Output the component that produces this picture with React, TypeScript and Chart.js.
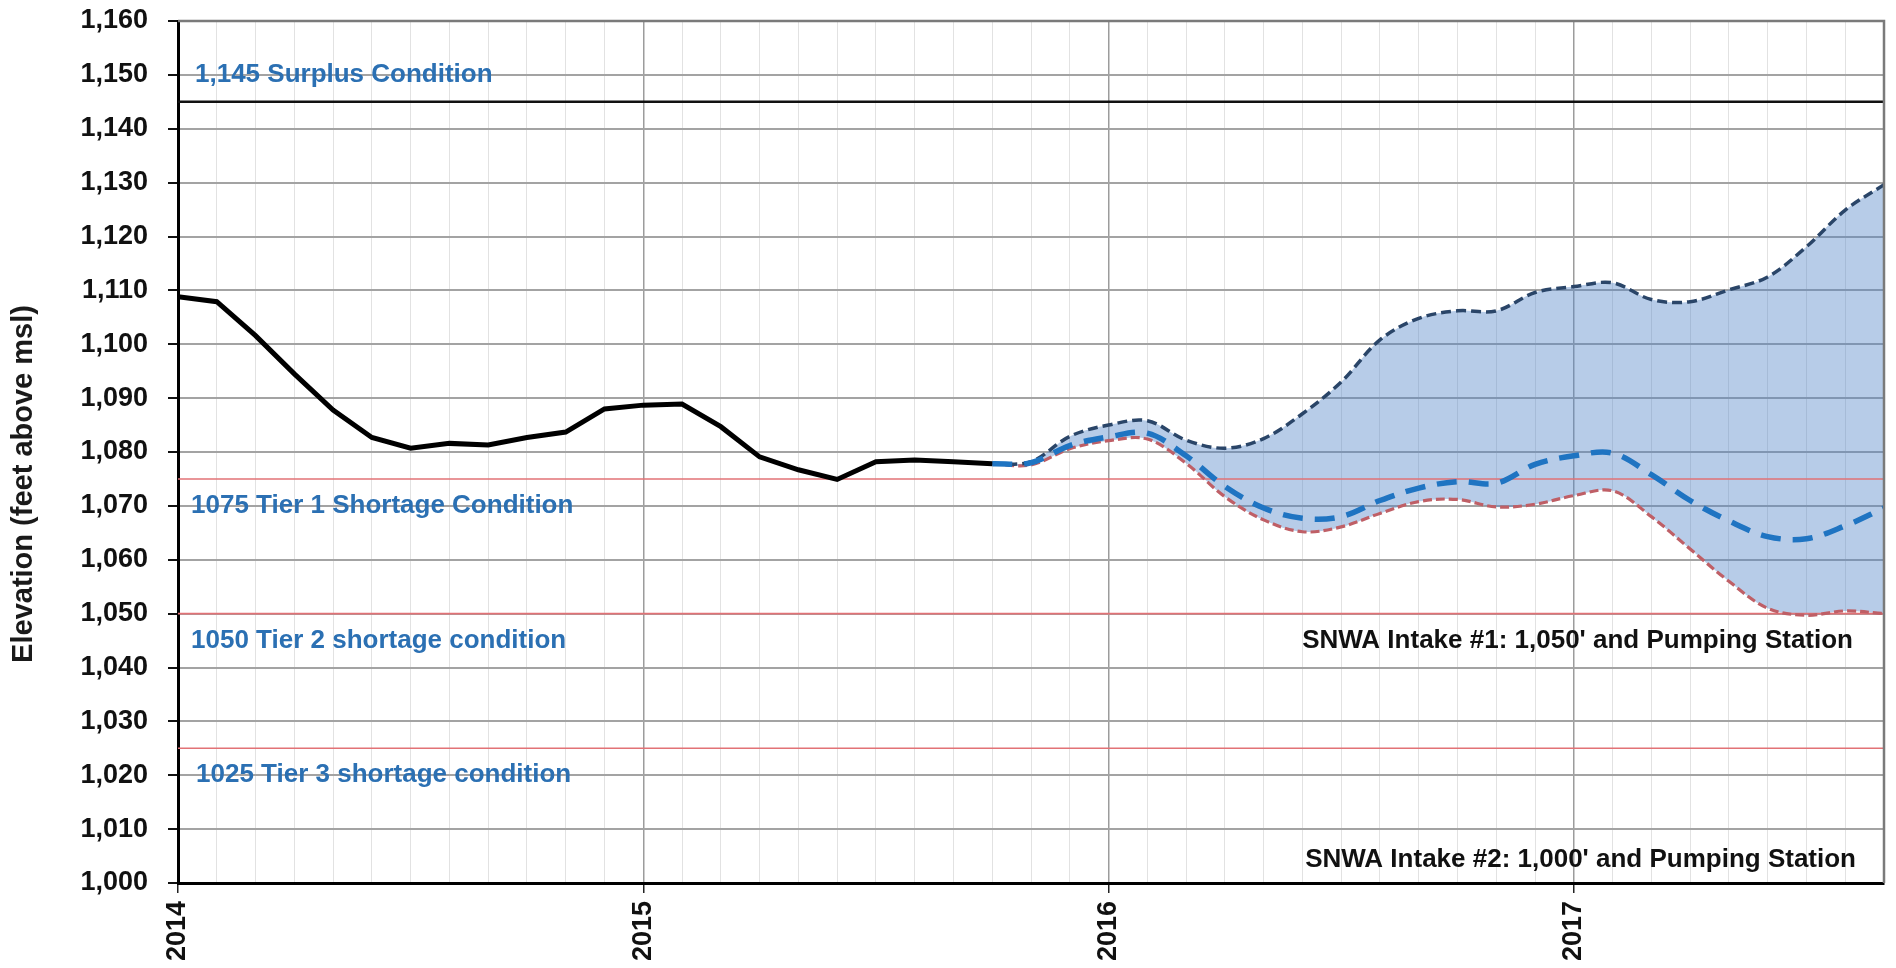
import React, { useEffect, useRef } from 'react';
import { Chart, registerables } from 'chart.js';

Chart.register(...registerables);

// ---------- data ----------
const yearTicks = ['2014', '2015', '2016', '2017'];
const monthCount = 44; // Jan 2014 .. Sep 2017 (month index 0..44)

// Historical end-of-month elevation, Jan 2014 (index 0) .. Oct 2015 (index 21)
const historicalElevation = [
  1108.8, 1107.9, 1101.6, 1094.5, 1087.8, 1082.7, 1080.7, 1081.6, 1081.3, 1082.7, 1083.7,
  1088.0, 1088.7, 1088.9, 1084.7, 1079.1, 1076.7, 1074.9, 1078.2, 1078.5, 1078.2, 1077.8,
];

const forecastStartMonth = 21; // Oct 2015
const maxProbable = [
  1077.8, 1078.2, 1082.9, 1085.0, 1085.8, 1082.2, 1080.7, 1082.5, 1087.1, 1093.0, 1100.8, 1104.8,
  1106.2, 1106.2, 1109.6, 1110.7, 1111.4, 1108.3, 1107.9, 1110.1, 1112.5, 1118.1, 1124.9, 1129.6,
];
const mostProbable = [
  1077.8, 1078.0, 1081.2, 1082.8, 1083.5, 1079.3, 1073.6, 1069.6, 1067.7, 1068.0, 1071.0, 1073.3,
  1074.5, 1074.2, 1077.7, 1079.3, 1079.8, 1075.8, 1071.0, 1067.2, 1064.3, 1063.9, 1066.3, 1069.6,
];
const minProbable = [
  1077.8, 1077.6, 1080.6, 1082.1, 1082.4, 1077.9, 1071.7, 1067.4, 1065.2, 1066.1, 1068.6, 1070.8,
  1071.2, 1069.8, 1070.3, 1071.9, 1072.8, 1068.0, 1062.0, 1056.0, 1051.0, 1049.7, 1050.5, 1050.0,
];

const surplusLevel = [1145];
const shortageLevels = [1075, 1050, 1025];

const conditionTexts = [
  '1,145 Surplus Condition',
  '1075 Tier 1 Shortage Condition',
  '1050 Tier 2 shortage condition',
  '1025 Tier 3 shortage condition',
];
const intakeTexts = [
  "SNWA Intake #1: 1,050' and Pumping Station",
  "SNWA Intake #2: 1,000' and Pumping Station",
];
const yAxisTitle = 'Elevation (feet above msl)';

// ---------- helpers ----------
const toPoints = (start: number, values: number[]) => values.map((y, i) => ({ x: start + i, y }));
const flatLine = (v: number) => [
  { x: 0, y: v },
  { x: monthCount, y: v },
];

const FONT = '"Liberation Sans", Arial, sans-serif';

export default function App() {
  const ref = useRef<HTMLCanvasElement | null>(null);

  useEffect(() => {
    const canvas = ref.current;
    if (!canvas) return;

    const annotationPlugin = {
      id: 'annotations',
      afterDraw(chart: any) {
        const { ctx, chartArea, scales } = chart;
        const ys = scales.y;
        ctx.save();
        // plot frame (top + right)
        ctx.strokeStyle = '#7a7a7a';
        ctx.lineWidth = 2.5;
        ctx.beginPath();
        ctx.moveTo(chartArea.left, chartArea.top);
        ctx.lineTo(chartArea.right, chartArea.top);
        ctx.lineTo(chartArea.right, chartArea.bottom);
        ctx.stroke();

        // condition labels
        ctx.font = `bold 26px ${FONT}`;
        ctx.textBaseline = 'middle';
        ctx.textAlign = 'left';
        ctx.fillStyle = '#2B70B3';
        const condLevels = [1150, 1070, 1045, 1020];
        const condOffsets = [17, 13, 13, 18];
        conditionTexts.forEach((t, i) => {
          ctx.fillText(t, chartArea.left + condOffsets[i], ys.getPixelForValue(condLevels[i]));
        });

        // intake labels
        ctx.fillStyle = '#111111';
        ctx.textAlign = 'right';
        const intakeLevels = [1045, 1004.3];
        const intakeOffsets = [31, 28];
        intakeTexts.forEach((t, i) => {
          ctx.fillText(t, chartArea.right - intakeOffsets[i], ys.getPixelForValue(intakeLevels[i]));
        });

        // y axis title (centered on the canvas height)
        ctx.translate(24, chart.height / 2);
        ctx.rotate(-Math.PI / 2);
        ctx.textAlign = 'center';
        ctx.font = `bold 29px ${FONT}`;
        ctx.fillStyle = '#1a1a1a';
        ctx.fillText(yAxisTitle, 0, 0);
        ctx.restore();
      },
    };

    const chart = new Chart(canvas, {
      type: 'line',
      data: {
        datasets: [
          {
            label: 'Historical',
            data: toPoints(0, historicalElevation),
            borderColor: '#000000',
            borderWidth: 5,
            pointRadius: 0,
            tension: 0,
            fill: false,
          },
          {
            label: 'Most Probable',
            data: toPoints(forecastStartMonth, mostProbable),
            borderColor: '#1F74C2',
            borderWidth: 5.5,
            borderDash: [20, 12],
            pointRadius: 0,
            tension: 0.35,
            fill: false,
          },
          {
            label: 'Max Probable',
            data: toPoints(forecastStartMonth, maxProbable),
            borderColor: '#2A4568',
            borderWidth: 3.5,
            borderDash: [10, 5],
            pointRadius: 0,
            tension: 0.35,
            fill: '+1',
            backgroundColor: 'rgba(84,134,199,0.42)',
          },
          {
            label: 'Min Probable',
            data: toPoints(forecastStartMonth, minProbable),
            borderColor: '#BF5F66',
            borderWidth: 3.2,
            borderDash: [9, 4],
            pointRadius: 0,
            tension: 0.35,
            fill: false,
          },
          {
            label: 'Surplus',
            data: flatLine(surplusLevel[0]),
            borderColor: '#111111',
            borderWidth: 2.5,
            pointRadius: 0,
            fill: false,
          },
          ...shortageLevels.map((v) => ({
            label: `Shortage ${v}`,
            data: flatLine(v),
            borderColor: '#E27276',
            borderWidth: 1.6,
            pointRadius: 0,
            fill: false,
          })),
        ],
      },
      options: {
        responsive: false,
        animation: false,
        events: [],
        layout: { padding: { top: 21, right: 12, left: 0, bottom: 0 } },
        plugins: {
          legend: { display: false },
          tooltip: { enabled: false },
          title: { display: false },
          filler: { drawTime: 'beforeDatasetsDraw' },
        } as any,
        scales: {
          x: {
            type: 'linear',
            min: 0,
            max: monthCount,
            afterFit: (s: any) => {
              s.height = 85;
              s.paddingLeft = 0;
              s.paddingRight = 0;
            },
            border: { color: '#000000', width: 3 },
            grid: {
              color: (c: any) => (c.tick && c.tick.value % 12 === 0 ? '#9c9c9c' : '#e2e2e2'),
              lineWidth: (c: any) => (c.tick && c.tick.value % 12 === 0 ? 1.5 : 1),
              tickColor: (c: any) => (c.tick && c.tick.value % 12 === 0 ? '#222222' : 'rgba(0,0,0,0)'),
              tickLength: 10,
            } as any,
            ticks: {
              stepSize: 1,
              autoSkip: false,
              maxRotation: 90,
              minRotation: 90,
              padding: 8,
              color: '#111111',
              font: { family: FONT, size: 27, weight: 'bold' },
              callback: (v: any) => (Number(v) % 12 === 0 ? yearTicks[Number(v) / 12] ?? '' : ''),
            },
          },
          y: {
            type: 'linear',
            min: 1000,
            max: 1160,
            afterFit: (s: any) => {
              s.width = 178;
              s.paddingTop = 0;
              s.paddingBottom = 0;
            },
            border: { color: '#000000', width: 3 },
            grid: {
              color: '#a3a3a3',
              lineWidth: 2,
              tickColor: '#111111',
              tickWidth: 2,
              tickLength: 10,
            } as any,
            ticks: {
              stepSize: 10,
              padding: 20,
              color: '#111111',
              font: { family: FONT, size: 27, weight: 'bold' },
              callback: (v: any) => Number(v).toLocaleString('en-US'),
            },
          },
        },
      } as any,
      plugins: [annotationPlugin],
    });

    return () => chart.destroy();
  }, []);

  return (
    <div style={{ position: 'fixed', left: 0, top: 0, width: 1896, height: 968, background: '#ffffff' }}>
      <canvas ref={ref} width={1896} height={968} style={{ display: 'block' }} />
    </div>
  );
}
